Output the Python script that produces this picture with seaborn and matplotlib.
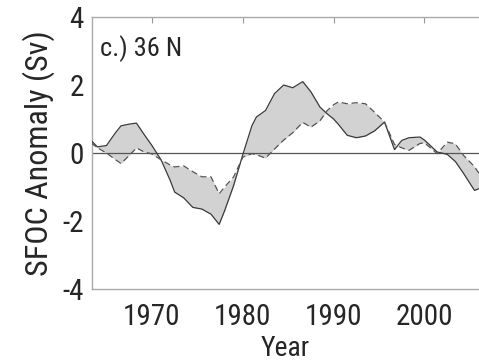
import matplotlib
matplotlib.use("Agg")
import matplotlib.pyplot as plt
from matplotlib import font_manager as fm
import seaborn as sns
import pandas as pd

years = [1963.3, 1964, 1965, 1966, 1966.6, 1967.5, 1968.3, 1969, 1970, 1971, 1972, 1972.5,
         1973.5, 1974.5, 1975.5, 1976.5, 1977.4, 1978, 1979, 1980, 1981, 1981.5, 1982.5,
         1983.5, 1984.5, 1985.5, 1986.6, 1987.5, 1988.5, 1989.3, 1990, 1990.5, 1991.5,
         1992.5, 1993.5, 1994.5, 1995.6, 1996.7, 1997.5, 1998.3, 1999.5, 2000, 2001.4,
         2002.5, 2003.4, 2004.3, 2005.5, 2006]
solid = [0.37, 0.18, 0.22, 0.6, 0.8, 0.85, 0.88, 0.6, 0.22, -0.2, -0.8, -1.15,
         -1.32, -1.6, -1.65, -1.8, -2.1, -1.7, -0.95, -0.05, 0.8, 1.06, 1.25,
         1.75, 2.0, 1.92, 2.1, 1.8, 1.35, 1.15, 1.0, 0.85, 0.52,
         0.45, 0.5, 0.65, 0.91, 0.1, 0.37, 0.45, 0.47, 0.38, 0.03,
         -0.04, -0.25, -0.6, -1.1, -1.05]
dashed = [0.3, 0.15, 0.0, -0.2, -0.31, -0.07, 0.15, 0.05, -0.03, -0.2, -0.35, -0.41,
          -0.38, -0.55, -0.7, -0.7, -1.2, -1.0, -0.7, -0.12, -0.02, -0.05, -0.15,
          0.12, 0.38, 0.6, 0.9, 0.76, 0.95, 1.25, 1.42, 1.5, 1.45,
          1.48, 1.45, 1.2, 0.91, 0.25, 0.15, 0.08, 0.28, 0.3, -0.02,
          0.32, 0.27, -0.07, -0.4, -0.6]
xticks = [1970, 1980, 1990, 2000]
yticks = [-4, -2, 0, 2, 4]

sns.set_style("white")
plt.rcParams["font.family"] = ["Liberation Sans", "DejaVu Sans"]

# find a condensed sans face if one is installed
narrow_file = None
prefs = ["liberation sans narrow", "roboto condensed", "open sans condensed",
         "noto sans", "dejavu sans", "liberation sans"]
cands = []
for f in fm.fontManager.ttflist:
    st = str(f.stretch).lower()
    nm = f.name.lower()
    cond = ("narrow" in nm or "condensed" in nm or st in ("condensed", "semi-condensed", "extra-condensed")
            or (st.isdigit() and int(st) < 5))
    if cond and f.weight in (400, "normal", "regular") and f.style == "normal":
        rank = next((i for i, p in enumerate(prefs) if nm.startswith(p)), len(prefs))
        cands.append((rank, f.fname))
cands.sort()
if cands:
    narrow_file = cands[0][1]

def fp(size):
    if narrow_file:
        return fm.FontProperties(fname=narrow_file, size=size)
    return fm.FontProperties(family=["Liberation Sans", "DejaVu Sans"], size=size)

df = pd.DataFrame({"Year": years, "solid": solid, "dashed": dashed})

fig = plt.figure(figsize=(4.79, 3.63), dpi=100)
ax = fig.add_axes([0.192, 0.204, 0.808, 0.749])

ax.fill_between(df["Year"], df["solid"], df["dashed"], color="#d2d2d2", linewidth=0, zorder=1)
ax.axhline(0, color="#555555", linewidth=0.9, zorder=2)
sns.lineplot(data=df, x="Year", y="solid", ax=ax, color="#3a3a3a", linewidth=0.9, zorder=3)
sns.lineplot(data=df, x="Year", y="dashed", ax=ax, color="#555555", linewidth=0.9,
             linestyle=(0, (5, 3)), zorder=3)

ax.set_xlim(1963.4, 2006.0)
ax.set_ylim(-4, 4)
ax.set_xticks(xticks)
ax.set_yticks(yticks)
ax.set_xticklabels([str(t) for t in xticks], fontproperties=fp(21))
ax.set_yticklabels([str(t) for t in yticks], fontproperties=fp(21))
ax.tick_params(axis="both", direction="in", length=4, color="#999999", top=True, right=False, pad=6)
ax.tick_params(axis="x", pad=10)
ax.set_xlabel("Year", fontproperties=fp(20), labelpad=3)
ax.set_ylabel("SFOC Anomaly (Sv)", fontproperties=fp(23), labelpad=5)
for s in ["left", "top", "bottom"]:
    ax.spines[s].set_color("#aaaaaa")
    ax.spines[s].set_linewidth(1.0)
ax.spines["right"].set_visible(False)
ax.text(0.02, 0.935, "c.) 36 N", transform=ax.transAxes, fontproperties=fp(19), va="top", ha="left")

fig.savefig("out.png", dpi=100)
